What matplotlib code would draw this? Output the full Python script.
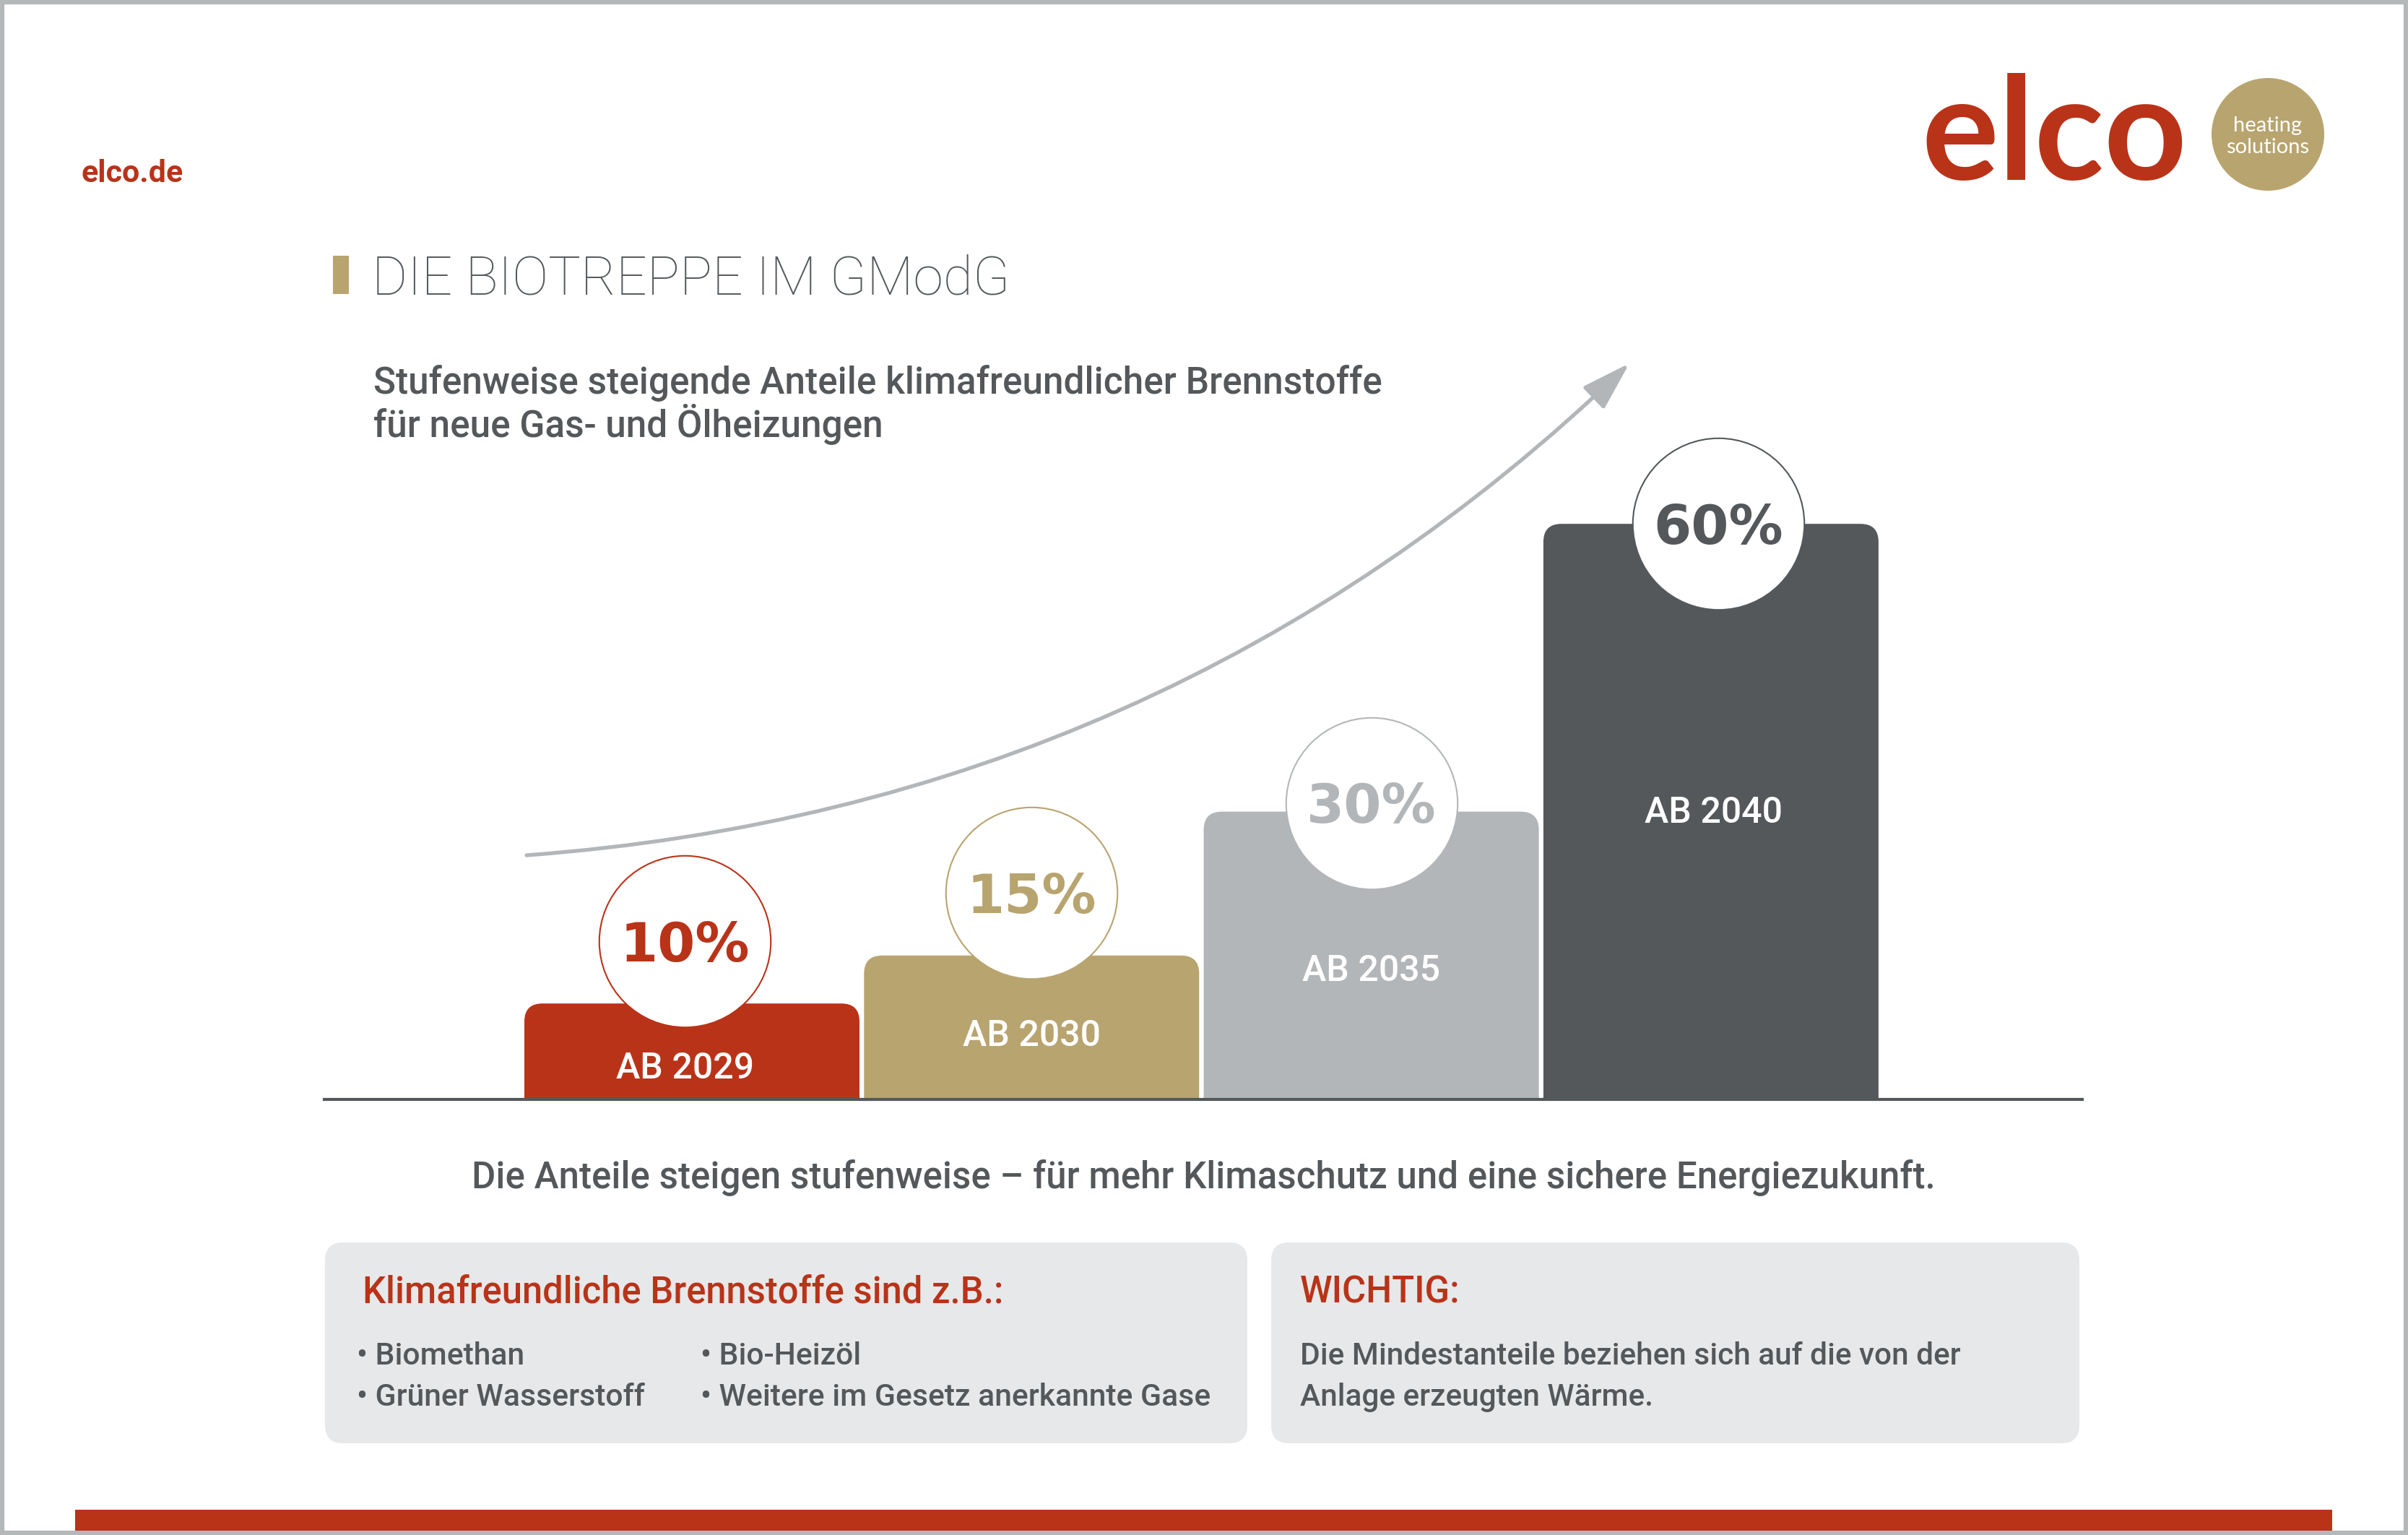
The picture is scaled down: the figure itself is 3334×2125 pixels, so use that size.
import matplotlib
matplotlib.use("Agg")
import matplotlib.pyplot as plt
from matplotlib.patches import FancyBboxPatch, Rectangle, Circle, FancyArrowPatch

# ---------------- data ----------------
years = ["AB 2029", "AB 2030", "AB 2035", "AB 2040"]
shares = [10, 15, 30, 60]
share_labels = ["10%", "15%", "30%", "60%"]

title = "DIE BIOTREPPE IM GModG"
subtitle_lines = ["Stufenweise steigende Anteile klimafreundlicher Brennstoffe",
                  "für neue Gas- und Ölheizungen"]
caption = "Die Anteile steigen stufenweise – für mehr Klimaschutz und eine sichere Energiezukunft."
fuel_header = "Klimafreundliche Brennstoffe sind z.B.:"
fuels_col1 = ["Biomethan", "Grüner Wasserstoff"]
fuels_col2 = ["Bio-Heizöl", "Weitere im Gesetz anerkannte Gase"]
note_header = "WICHTIG:"
note_lines = ["Die Mindestanteile beziehen sich auf die von der",
              "Anlage erzeugten Wärme."]
site = "elco.de"
brand = "elco"
brand_tag = ["heating", "solutions"]

# ---------------- styles ----------------
RED = "#b93319"
GOLD = "#b8a46f"
LGRAY = "#b3b6b8"
DGRAY = "#54585b"
BOX = "#e7e8e9"
FRAME = "#b4b8b9"
bar_colors = [RED, GOLD, LGRAY, DGRAY]
circle_lift = [6.5, 6.5, 0.9, 0.0]          # circle centre above bar top (data units)
circle_shift_px = [-10, 0, 0, 10]           # horizontal nudge of circle (pixels)
label_shift_px = [-9, 0, 0, 4]              # horizontal nudge of year label (pixels)
label_base = [0.218, 0.371, 0.412, 0.481]   # year label baseline as fraction of bar height
FONT = "Roboto"

W, H = 3334, 2125
DPI = 100
fig = plt.figure(figsize=(W / DPI, H / DPI), dpi=DPI)
fig.patch.set_facecolor("white")

# background / layout axes in pixel units (y downwards)
bg = fig.add_axes([0, 0, 1, 1], zorder=0)
bg.set_xlim(0, W)
bg.set_ylim(H, 0)
bg.axis("off")

# frame
bg.add_patch(Rectangle((3, 3), W - 6, H - 6, fill=False, ec=FRAME, lw=4.5, clip_on=False))
# bottom red band
bg.add_patch(Rectangle((104, 2090), 3229 - 104, 29, fc=RED, ec="none"))

# site text
bg.text(113, 252, site, fontsize=31, fontweight="bold", color=RED, family=FONT, va="baseline")

# logo
bg.text(2660, 249, brand, fontsize=144, fontweight="bold", color=RED, family="Lato", va="baseline")
bg.add_patch(Circle((3140, 186), 78, fc=GOLD, ec="none"))
bg.text(3140, 182, brand_tag[0], fontsize=21, color="white", family="Lato", ha="center", va="baseline")
bg.text(3140, 212, brand_tag[1], fontsize=21, color="white", family="Lato", ha="center", va="baseline")

# title
bg.add_patch(Rectangle((461, 354), 22, 53, fc=GOLD, ec="none"))
bg.text(515, 407, title, fontsize=54, fontweight="light", color=DGRAY, family=FONT, va="baseline")

# subtitle
for j, line in enumerate(subtitle_lines):
    bg.text(517, 545 + 60 * j, line, fontsize=37, fontweight="medium", color=DGRAY,
            family=FONT, va="baseline")

# arrow
arrow = FancyArrowPatch((729, 1184), (2256, 503), connectionstyle="arc3,rad=0.18",
                        arrowstyle="-|>,head_length=42,head_width=13", mutation_scale=1,
                        color=LGRAY, lw=3.8, shrinkA=0, shrinkB=0)
bg.add_patch(arrow)

# caption
bg.text(1666, 1645, caption, fontsize=36.7, fontweight="medium", color=DGRAY, family=FONT,
        ha="center", va="baseline")

# info boxes
for (x0, w0) in [(450, 1277), (1760, 1119)]:
    bg.add_patch(FancyBboxPatch((x0, 1720), w0, 278, boxstyle="round,pad=0,rounding_size=25",
                                fc=BOX, ec="none"))
bg.text(502, 1803, fuel_header, fontsize=36.5, fontweight="medium", color=RED, family=FONT, va="baseline")
for j, item in enumerate(fuels_col1):
    bg.text(494, 1889 + 57 * j, "• " + item, fontsize=30.7, fontweight="medium", color=DGRAY,
            family=FONT, va="baseline")
for j, item in enumerate(fuels_col2):
    bg.text(970, 1889 + 57 * j, "• " + item, fontsize=30.7, fontweight="medium", color=DGRAY,
            family=FONT, va="baseline")
bg.text(1800, 1803, note_header, fontsize=36.5, fontweight="medium", color=RED, family=FONT, va="baseline")
for j, line in enumerate(note_lines):
    bg.text(1800, 1889 + 57 * j, line, fontsize=30.5, fontweight="medium", color=DGRAY,
            family=FONT, va="baseline")

# ---------------- bar chart axes ----------------
base_px, top_px = 1522, 526
left_px, right_px = 449, 2883
unit_x = 470.3
ymax = 75
ax = fig.add_axes([left_px / W, (H - base_px) / H, (right_px - left_px) / W, (base_px - top_px) / H],
                  zorder=1)
ax.patch.set_alpha(0)
ax.set_xlim((left_px - 958) / unit_x, (right_px - 958) / unit_x)
ax.set_ylim(0, ymax)
ax.axis("off")

unit_y = (base_px - top_px) / ymax
bw = 464 / unit_x
r_x = 25 / unit_x
asp = (25 / unit_y) / r_x
for i, (v, c) in enumerate(zip(shares, bar_colors)):
    ax.add_patch(FancyBboxPatch((i - bw / 2, -3), bw, v + 3,
                                boxstyle=f"round,pad=0,rounding_size={r_x}",
                                mutation_aspect=asp, fc=c, ec="none", zorder=1))
    ax.text(i + label_shift_px[i] / unit_x, v * label_base[i], years[i], ha="center",
            va="baseline", color="white", fontsize=36, fontweight="medium", family=FONT, zorder=4)
    cx = i + circle_shift_px[i] / unit_x
    cy = v + circle_lift[i]
    ax.plot(cx, cy, marker="o", ms=171, mfc="white", mec=c, mew=1.5, clip_on=False, zorder=3)
    ax.annotate(share_labels[i], (cx, cy), xytext=(0, -20), textcoords="offset points",
                ha="center", va="baseline", fontsize=54, fontweight="bold", color=c,
                family="DejaVu Sans", zorder=4, annotation_clip=False)

ax.axhline(0, color=DGRAY, lw=3.0, clip_on=False, zorder=5)

fig.savefig("out.png", dpi=DPI, facecolor="white")
